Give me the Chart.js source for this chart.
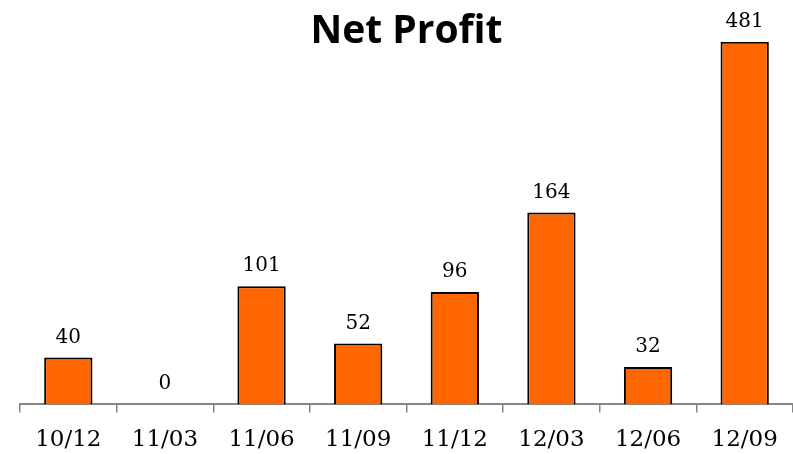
<!DOCTYPE html>
<html lang="en">
<head>
    <meta charset="UTF-8">
    <title>Net Profit</title>
    <script src="https://cdn.jsdelivr.net/npm/chart.js"></script>
    <style>
        body { margin: 0; background: #fff; }
        #wrap { width: 793px; height: 454px; }
    </style>
</head>
<body>
<div id="wrap"><canvas id="myChart" width="793" height="454"></canvas></div>

<script>
    const quarters = ['10/12', '11/03', '11/06', '11/09', '11/12', '12/03', '12/06', '12/09'];
    const netProfit = [40, 0, 101, 52, 96, 164, 32, 481];

    // the axis is cut off at 310, the last bar runs off the top
    const axisMax = 310;
    const shown = netProfit.map(v => Math.min(v, axisMax));

    const valueLabels = {
        id: 'valueLabels',
        afterDatasetsDraw(chart) {
            const ctx = chart.ctx;
            const meta = chart.getDatasetMeta(0);
            ctx.save();
            ctx.font = '20px "DejaVu Serif"';
            ctx.fillStyle = '#000';
            ctx.textAlign = 'center';
            ctx.textBaseline = 'alphabetic';
            meta.data.forEach((bar, i) => {
                ctx.fillText(String(netProfit[i]), bar.x, bar.y - 15);
            });
            ctx.restore();
        }
    };

    const ctx = document.getElementById('myChart').getContext('2d');
    new Chart(ctx, {
        type: 'bar',
        data: {
            labels: quarters,
            datasets: [{
                label: 'Net Profit',
                data: shown,
                backgroundColor: '#ff6600',
                borderColor: '#000',
                borderWidth: 2,
                borderSkipped: 'start',
                categoryPercentage: 1,
                barPercentage: 0.5
            }]
        },
        options: {
            responsive: false,
            animation: false,
            layout: { padding: { left: 20, right: 0, top: 0, bottom: -14 } },
            plugins: {
                legend: { display: false },
                tooltip: { enabled: false },
                title: {
                    display: true,
                    text: 'Net Profit',
                    color: '#000',
                    font: { family: '"Open Sans"', size: 39, weight: 'bold' },
                    padding: { top: 8, bottom: -13 }
                }
            },
            scales: {
                x: {
                    grid: {
                        drawOnChartArea: false,
                        drawTicks: true,
                        tickLength: 8,
                        color: '#868686',
                        lineWidth: 1.5,
                        offset: true
                    },
                    border: { color: '#868686', width: 2 },
                    ticks: {
                        color: '#000',
                        padding: 14,
                        font: { family: '"DejaVu Serif"', size: 23 }
                    }
                },
                y: {
                    display: false,
                    min: 0,
                    max: axisMax
                }
            }
        },
        plugins: [valueLabels]
    });
</script>
</body>
</html>
